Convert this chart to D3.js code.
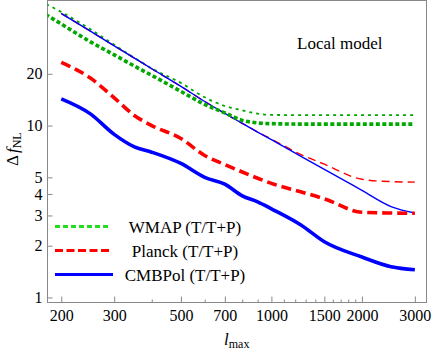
<!DOCTYPE html>
<html>
<head>
<meta charset="utf-8">
<script src="https://cdn.jsdelivr.net/npm/d3@7"></script>
<style>
	body { margin: 0; background: #fff; }
	svg text { font-family: "Liberation Serif", "Times New Roman", "DejaVu Serif", serif; }
</style>
</head>
<body>
<svg id="chart" width="432" height="351"></svg>
<script>
// multipole values (x axis)
var lmax = [200, 250, 300, 350, 400, 500, 600, 700, 800, 900, 1000, 1250, 1500, 2000, 2500, 3000];
// wmap curves run past the left edge of the frame
var lmaxWmap = [170, 200, 250, 300, 350, 400, 500, 600, 700, 800, 900, 1000, 1250, 1500, 2000, 2500, 3000];

// delta f_NL, thin = temperature only, thick = T+P
var wmapT = [53, 45.8, 36.3, 29.5, 24.8, 21.5, 17.7, 14.6, 13.0, 12.26, 11.73, 11.54, 11.5, 11.5, 11.5, 11.5, 11.5];
var wmapTP = [46.4, 39.0, 30.7, 25.8, 22.2, 19.6, 15.8, 13.28, 11.86, 10.72, 10.37, 10.26, 10.2, 10.2, 10.2, 10.2, 10.2];
var planckT = [44.9, 35.4, 29.1, 24.7, 21.4, 16.9, 13.8, 11.77, 10.3, 9.17, 8.35, 6.8, 5.96, 4.87, 4.72, 4.69];
var planckTP = [23.3, 18.9, 14.5, 11.45, 10.0, 8.41, 6.70, 5.93, 5.37, 4.94, 4.61, 4.12, 3.75, 3.13, 3.10, 3.09];
var cmbpolT = [44.9, 35.4, 29.1, 24.7, 21.4, 16.9, 13.8, 11.77, 10.3, 9.17, 8.28, 6.65, 5.56, 4.20, 3.38, 3.10];
var cmbpolTP = [14.3, 11.7, 8.89, 7.52, 7.00, 6.02, 5.00, 4.56, 3.90, 3.60, 3.28, 2.65, 2.11, 1.72, 1.51, 1.45];

// ticks
var xMajor = [200, 300, 500, 700, 1000, 1500, 2000, 3000];
var xMinor = [400, 600, 800, 900, 1100, 1200, 1300, 1400, 1600, 1700, 1800, 1900];
var yMajor = [1, 2, 3, 4, 5, 10, 20];

var legendLabels = ["WMAP (T/T+P)", "Planck (T/T+P)", "CMBPol (T/T+P)"];

var frame = {left: 47.5, right: 426.5, top: 0.5, bottom: 302.5};
var serif = "'Liberation Serif', 'Times New Roman', 'DejaVu Serif', serif";

var svg = d3.select("#chart");

var x = d3.scaleLog().domain([180, 3280]).range([frame.left, frame.right]);
var y = d3.scaleLog().domain([0.935, 53.4]).range([frame.bottom, frame.top]);

var green = "#00a800", legendGreen = "#22dd22";

svg.append("defs").append("clipPath").attr("id", "clip")
	.append("rect")
	.attr("x", frame.left).attr("y", frame.top)
	.attr("width", frame.right - frame.left).attr("height", frame.bottom - frame.top);

// axes, ticks pointing inward
svg.append("g")
	.attr("transform", "translate(0," + frame.bottom + ")")
	.call(d3.axisBottom(x).tickValues(xMajor).tickFormat(d3.format("d"))
		.tickSizeInner(-6).tickSizeOuter(0).tickPadding(7));
svg.append("g")
	.attr("transform", "translate(0," + frame.bottom + ")")
	.call(d3.axisBottom(x).tickValues(xMinor).tickFormat("")
		.tickSizeInner(-3).tickSizeOuter(0));
svg.append("g")
	.attr("transform", "translate(" + frame.left + ",0)")
	.call(d3.axisLeft(y).tickValues(yMajor).tickFormat(d3.format("d"))
		.tickSizeInner(-5).tickSizeOuter(0).tickPadding(5));

svg.selectAll(".domain").remove();
svg.selectAll(".tick line").attr("stroke", "#888");
svg.selectAll(".tick text")
	.style("font-family", serif)
	.attr("font-size", 16)
	.attr("fill", "#000");

// frame
svg.append("rect")
	.attr("x", frame.left).attr("y", frame.top)
	.attr("width", frame.right - frame.left).attr("height", frame.bottom - frame.top)
	.attr("fill", "none").attr("stroke", "#888").attr("stroke-width", 1);

var series = [
	{xs: lmax, ys: planckT, color: "red", width: 1.4, dash: "8,5"},
	{xs: lmaxWmap, ys: wmapT, color: green, width: 1.8, dash: "3,4"},
	{xs: lmax, ys: cmbpolT, color: "blue", width: 1.4, dash: null},
	{xs: lmaxWmap, ys: wmapTP, color: green, width: 3.6, dash: "4,2.5"},
	{xs: lmax, ys: planckTP, color: "red", width: 3.6, dash: "10,5"},
	{xs: lmax, ys: cmbpolTP, color: "blue", width: 3.6, dash: null}
];

var line = d3.line()
	.x(function(d) { return x(d[0]); })
	.y(function(d) { return y(d[1]); })
	.curve(d3.curveMonotoneX);

var plot = svg.append("g").attr("clip-path", "url(#clip)");
series.forEach(function(s) {
	plot.append("path")
		.datum(d3.zip(s.xs, s.ys))
		.attr("fill", "none")
		.attr("stroke", s.color)
		.attr("stroke-width", s.width)
		.attr("stroke-dasharray", s.dash)
		.attr("d", line);
});

// legend
var legendStyles = [
	{color: legendGreen, dash: "5,3"},
	{color: "red", dash: "8,3.5"},
	{color: "blue", dash: null}
];
var legend = svg.append("g");
legendLabels.forEach(function(label, i) {
	var ly = 226.5 + i * 24;
	legend.append("line")
		.attr("x1", 55).attr("x2", i == 2 ? 113 : 110)
		.attr("y1", ly).attr("y2", ly)
		.attr("stroke", legendStyles[i].color)
		.attr("stroke-width", 3)
		.attr("stroke-dasharray", legendStyles[i].dash);
	legend.append("text")
		.attr("x", 185).attr("y", ly + 6.5)
		.attr("text-anchor", "middle")
		.attr("font-size", 17)
		.text(label);
});

// annotation
svg.append("text")
	.attr("x", 297).attr("y", 48.5)
	.attr("font-size", 17)
	.text("Local model");

// axis labels
var xLabel = svg.append("text")
	.attr("x", 224).attr("y", 345)
	.attr("font-size", 17);
xLabel.append("tspan").attr("font-style", "italic").text("l");
xLabel.append("tspan").attr("font-size", 12).attr("dy", 3).text("max");

var yLabel = svg.append("text")
	.attr("transform", "translate(18,166) rotate(-90)")
	.attr("font-size", 17);
yLabel.append("tspan").text("\u0394");
yLabel.append("tspan").attr("font-style", "italic").attr("dx", 2).text("f");
yLabel.append("tspan").attr("font-size", 12).attr("dy", 3).text("NL");
</script>
</body>
</html>
